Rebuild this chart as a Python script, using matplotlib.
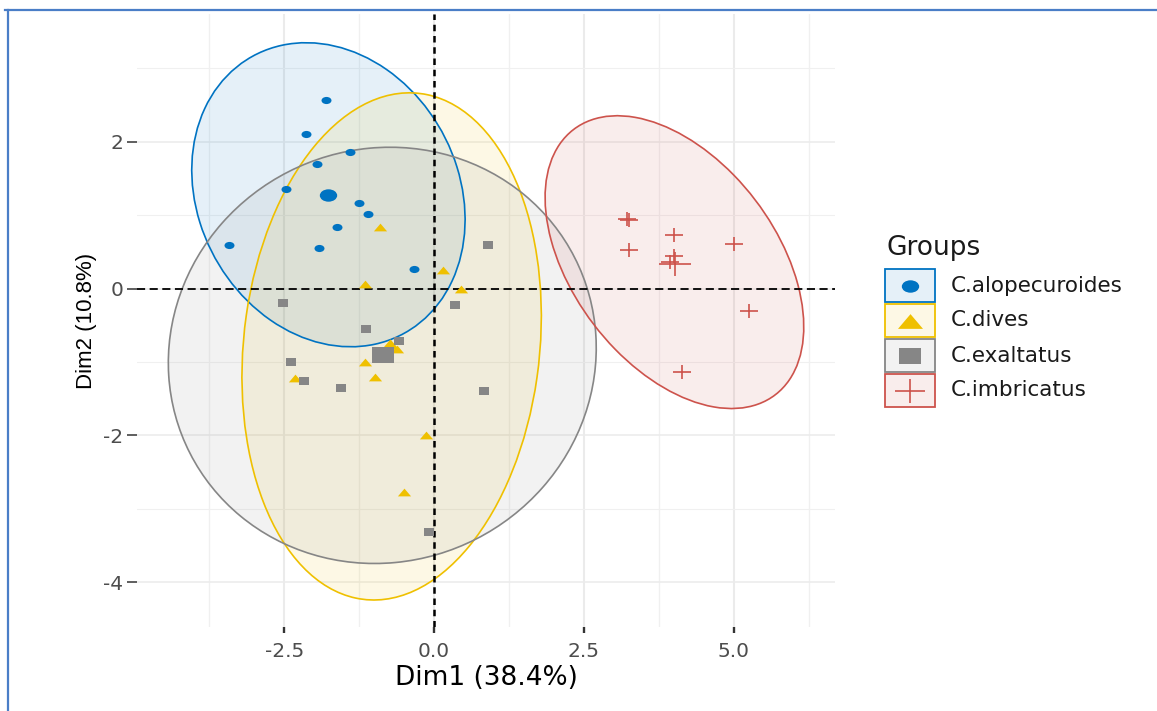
### PCA individuals plot with group ellipses ###
import matplotlib.pyplot as plt
from matplotlib.patches import Ellipse, Rectangle
from matplotlib.lines import Line2D
from matplotlib.path import Path
from matplotlib.transforms import Affine2D

plt.rcParams['font.family'] = ['DejaVu Sans']
plt.rcParams['axes.unicode_minus'] = False

# groups and colours (jco palette)
groups = ['C.alopecuroides', 'C.dives', 'C.exaltatus', 'C.imbricatus']
colors = ['#0073C2', '#EFC000', '#868686', '#CD534C']

# individual coordinates
alo_x = [-1.80, -2.14, -1.40, -1.95, -2.47, -1.25, -1.11, -1.62, -3.43, -1.92, -0.33]
alo_y = [2.57, 2.11, 1.86, 1.70, 1.35, 1.17, 1.01, 0.84, 0.59, 0.55, 0.27]
div_x = [-0.91, 0.14, -1.15, 0.45, -0.62, -1.15, -0.98, -2.33, -0.13, -0.50]
div_y = [0.84, 0.25, 0.06, 0.00, -0.82, -1.00, -1.20, -1.22, -1.99, -2.77]
exa_x = [-2.53, 0.34, -1.14, -0.58, -2.39, -2.17, -1.55, 0.83, -0.09, 0.90]
exa_y = [-0.19, -0.23, -0.55, -0.72, -1.00, -1.26, -1.36, -1.40, -3.32, 0.60]
imb_x = [3.26, 3.22, 3.26, 4.00, 4.00, 3.94, 5.01, 5.25, 4.13]
imb_y = [0.93, 0.95, 0.52, 0.73, 0.45, 0.36, 0.61, -0.31, -1.14]

# group means
mean_x = [-1.77, -0.73, -0.86, 4.02]
mean_y = [1.28, -0.75, -0.91, 0.34]

# ellipses (centre, full width, full height, angle in degrees)
ell_cx = [-1.765, -0.71, -0.866, 4.01]
ell_cy = [1.278, -0.788, -0.91, 0.36]
ell_w = [4.75, 6.96, 7.15, 5.00]
ell_h = [3.925, 4.925, 5.66, 3.09]
ell_ang = [-29.6, 80.1, 4.4, -39.9]

xs = [alo_x, div_x, exa_x, imb_x]
ys = [alo_y, div_y, exa_y, imb_y]

# the source picture is stretched sideways, so the markers are too
circ = Path.unit_circle().transformed(Affine2D().scale(1.4, 1))
tri = Path([(0, 1), (-1, -1), (1, -1), (0, 1)], closed=True).transformed(Affine2D().scale(1.7, 1))
sq = Path.unit_rectangle().transformed(Affine2D().translate(-0.5, -0.5).scale(1.45, 1))
plus = Path([(-1, 0), (1, 0), (0, -1), (0, 1)],
            [Path.MOVETO, Path.LINETO, Path.MOVETO, Path.LINETO]).transformed(Affine2D().scale(1.3, 1))
markers = [circ, tri, sq, plus]
ms = [7.2, 9.5, 7.5, 13]
ms_big = [12.5, 12.5, 16, 23]
key_ms = [12.5, 18, 16, 22]

W, H = 1157, 711
fig = plt.figure(figsize=(W / 100, H / 100), dpi=100)
ax = fig.add_axes([137 / W, 1 - 627 / H, (835 - 137) / W, (627 - 14) / H])

# grid (theme_minimal look)
for v in [-3.75, -1.25, 1.25, 3.75, 6.25]:
    ax.axvline(v, color='#F0F0F0', lw=1.0, zorder=0)
for v in [-2.5, 0, 2.5, 5.0]:
    ax.axvline(v, color='#EBEBEB', lw=1.5, zorder=0)
for v in [-3, -1, 1, 3]:
    ax.axhline(v, color='#F0F0F0', lw=0.8, zorder=0)
for v in [-4, -2, 0, 2]:
    ax.axhline(v, color='#EBEBEB', lw=1.1, zorder=0)

# ellipses
for i in range(4):
    ax.add_patch(Ellipse((ell_cx[i], ell_cy[i]), ell_w[i], ell_h[i], angle=ell_ang[i],
                         facecolor=colors[i], alpha=0.1, edgecolor='none', zorder=1))
    ax.add_patch(Ellipse((ell_cx[i], ell_cy[i]), ell_w[i], ell_h[i], angle=ell_ang[i],
                         facecolor='none', edgecolor=colors[i], lw=1.2, zorder=2))

ax.axhline(0, color='black', ls=(0, (4.5, 2.5)), lw=1.3, zorder=3)
ax.axvline(0, color='black', ls=(0, (2.6, 1.9)), lw=1.8, zorder=3)


def marker_kw(i, size):
    if i == 3:
        return dict(marker=markers[i], ms=size, mfc='none', mec=colors[i], mew=1.2)
    return dict(marker=markers[i], ms=size, color=colors[i], mew=0)


for i in range(4):
    ax.plot(xs[i], ys[i], ls='none', zorder=4, **marker_kw(i, ms[i]))
    ax.plot(mean_x[i], mean_y[i], ls='none', zorder=4, **marker_kw(i, ms_big[i]))

ax.set_xlim(-4.96, 6.69)
ax.set_ylim(-4.61, 3.74)
ax.set_xticks([-2.5, 0, 2.5, 5.0])
ax.set_xticklabels(['-2.5', '0.0', '2.5', '5.0'])
ax.set_yticks([-4, -2, 0, 2])
ax.tick_params(axis='x', colors='#333333', labelcolor='#4D4D4D', labelsize=14.5, length=4.5, width=1.7, pad=6)
ax.tick_params(axis='y', colors='#333333', labelcolor='#4D4D4D', labelsize=14.5, length=7, width=1.1, pad=3)
for s in ax.spines.values():
    s.set_visible(False)
ax.set_xlabel('Dim1 (38.4%)', fontsize=19, labelpad=3)
ax.set_ylabel('Dim2 (10.8%)', fontsize=16, family='Liberation Sans', labelpad=4)

# legend, placed by hand (pixel positions from the top-left corner)
fig.text(886 / W, 1 - 248 / H, 'Groups', fontsize=19, va='center', ha='left', color='#1A1A1A')
key_top = [269, 304, 339, 374]
for i in range(4):
    yc = 1 - (key_top[i] + 16.5) / H
    fig.add_artist(Rectangle((885 / W, 1 - (key_top[i] + 33) / H), 50 / W, 33 / H, transform=fig.transFigure,
                             facecolor=colors[i] + '1A', edgecolor=colors[i], lw=1.3))
    fig.add_artist(Line2D([910 / W], [yc], transform=fig.transFigure, ls='none', **marker_kw(i, key_ms[i])))
    fig.text(951 / W, yc, groups[i], fontsize=15.5, va='center', ha='left', color='#1A1A1A')

# screenshot frame
fig.add_artist(Line2D([0.004, 1.0], [0.986, 0.986], color='#4A7EC7', lw=1.6))
fig.add_artist(Line2D([0.007, 0.007], [0.0, 0.986], color='#4A7EC7', lw=1.6))

plt.savefig('out.png', dpi=100)
